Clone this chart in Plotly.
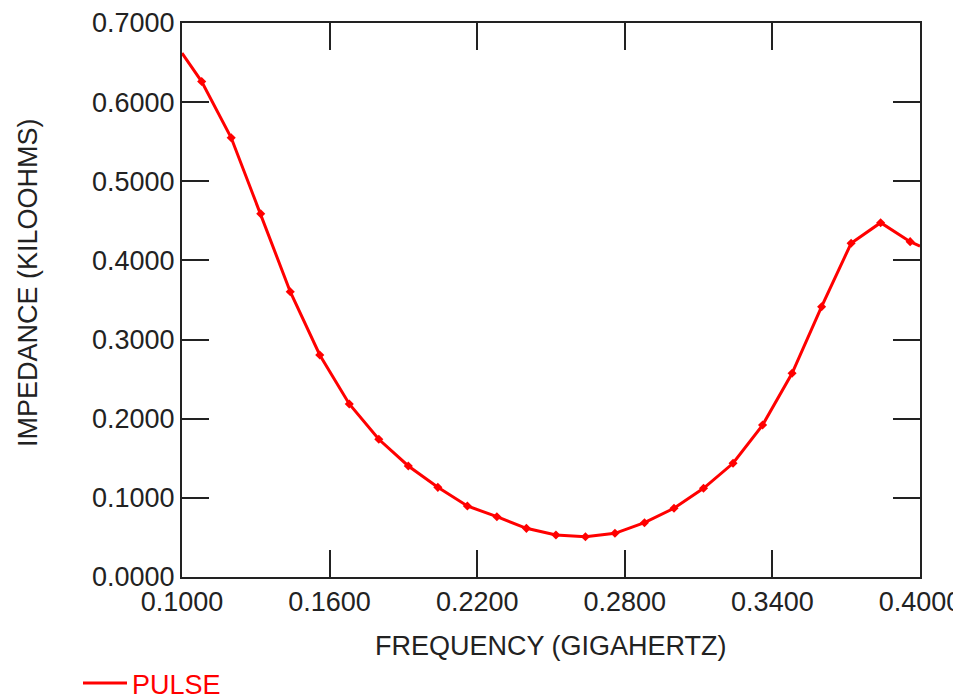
import plotly.graph_objects as go

# Data
frequency_ghz = [0.100, 0.108, 0.120, 0.132, 0.144, 0.156, 0.168, 0.180, 0.192, 0.204,
                 0.216, 0.228, 0.240, 0.252, 0.264, 0.276, 0.288, 0.300, 0.312, 0.324,
                 0.336, 0.348, 0.360, 0.372, 0.384, 0.396, 0.400]
impedance_kohm = [0.662, 0.626, 0.555, 0.459, 0.3605, 0.2805, 0.2186, 0.174, 0.1403, 0.1133,
                  0.0897, 0.0762, 0.0615, 0.0531, 0.0509, 0.0552, 0.0686, 0.0868, 0.1121, 0.1437,
                  0.192, 0.2574, 0.3415, 0.4217, 0.4477, 0.4237, 0.418]
x_ticks = [0.10, 0.16, 0.22, 0.28, 0.34, 0.40]
y_ticks = [0.0, 0.1, 0.2, 0.3, 0.4, 0.5, 0.6, 0.7]
series_name = "PULSE"

W, H = 953, 699
L, R, T, B = 182, 33, 23, 122
FONT = "Liberation Sans, Arial, sans-serif"
FS = 27
INK = "#222222"

fig = go.Figure()
fig.add_trace(go.Scatter(
    x=frequency_ghz, y=impedance_kohm, mode="lines", name=series_name,
    line=dict(color="#ff0000", width=3),
))
fig.add_trace(go.Scatter(
    x=frequency_ghz[1:-1], y=impedance_kohm[1:-1], mode="markers", showlegend=False,
    marker=dict(symbol="diamond", size=7, color="#ff0000"),
))

axis_common = dict(
    showgrid=False, zeroline=False, showline=True, linecolor=INK, linewidth=2,
    mirror="ticks", ticks="inside", ticklen=27, tickwidth=2, tickcolor=INK,
    tickfont=dict(family=FONT, size=FS, color=INK), tickformat=".4f",
    automargin=False, ticklabeloverflow="allow",
)

fig.update_xaxes(range=[0.1, 0.4], tickvals=x_ticks, **axis_common)
fig.update_yaxes(range=[0.0, 0.7], tickvals=y_ticks, **axis_common)

pw = W - L - R
ph = H - T - B

fig.add_annotation(text="FREQUENCY (GIGAHERTZ)", xref="paper", yref="paper",
                   x=0.5, y=(577 - 646) / ph, xanchor="center", yanchor="middle",
                   showarrow=False, font=dict(family=FONT, size=FS, color=INK))
fig.add_annotation(text="IMPEDANCE (KILOOHMS)", xref="paper", yref="paper",
                   x=(28 - L) / pw, y=(577 - 283) / ph, xanchor="center", yanchor="middle",
                   textangle=-90, showarrow=False,
                   font=dict(family=FONT, size=FS, color=INK))

fig.update_layout(
    width=W, height=H, template="none",
    margin=dict(l=L, r=R, t=T, b=B, pad=0, autoexpand=False),
    paper_bgcolor="white", plot_bgcolor="white",
    showlegend=True,
    legend=dict(xref="container", yref="container",
                x=78 / W, y=1 - 659 / H, xanchor="left", yanchor="top",
                orientation="h", bgcolor="rgba(0,0,0,0)", itemwidth=44,
                font=dict(family=FONT, size=FS, color="#ff0000")),
)

fig.write_html("out.html")
